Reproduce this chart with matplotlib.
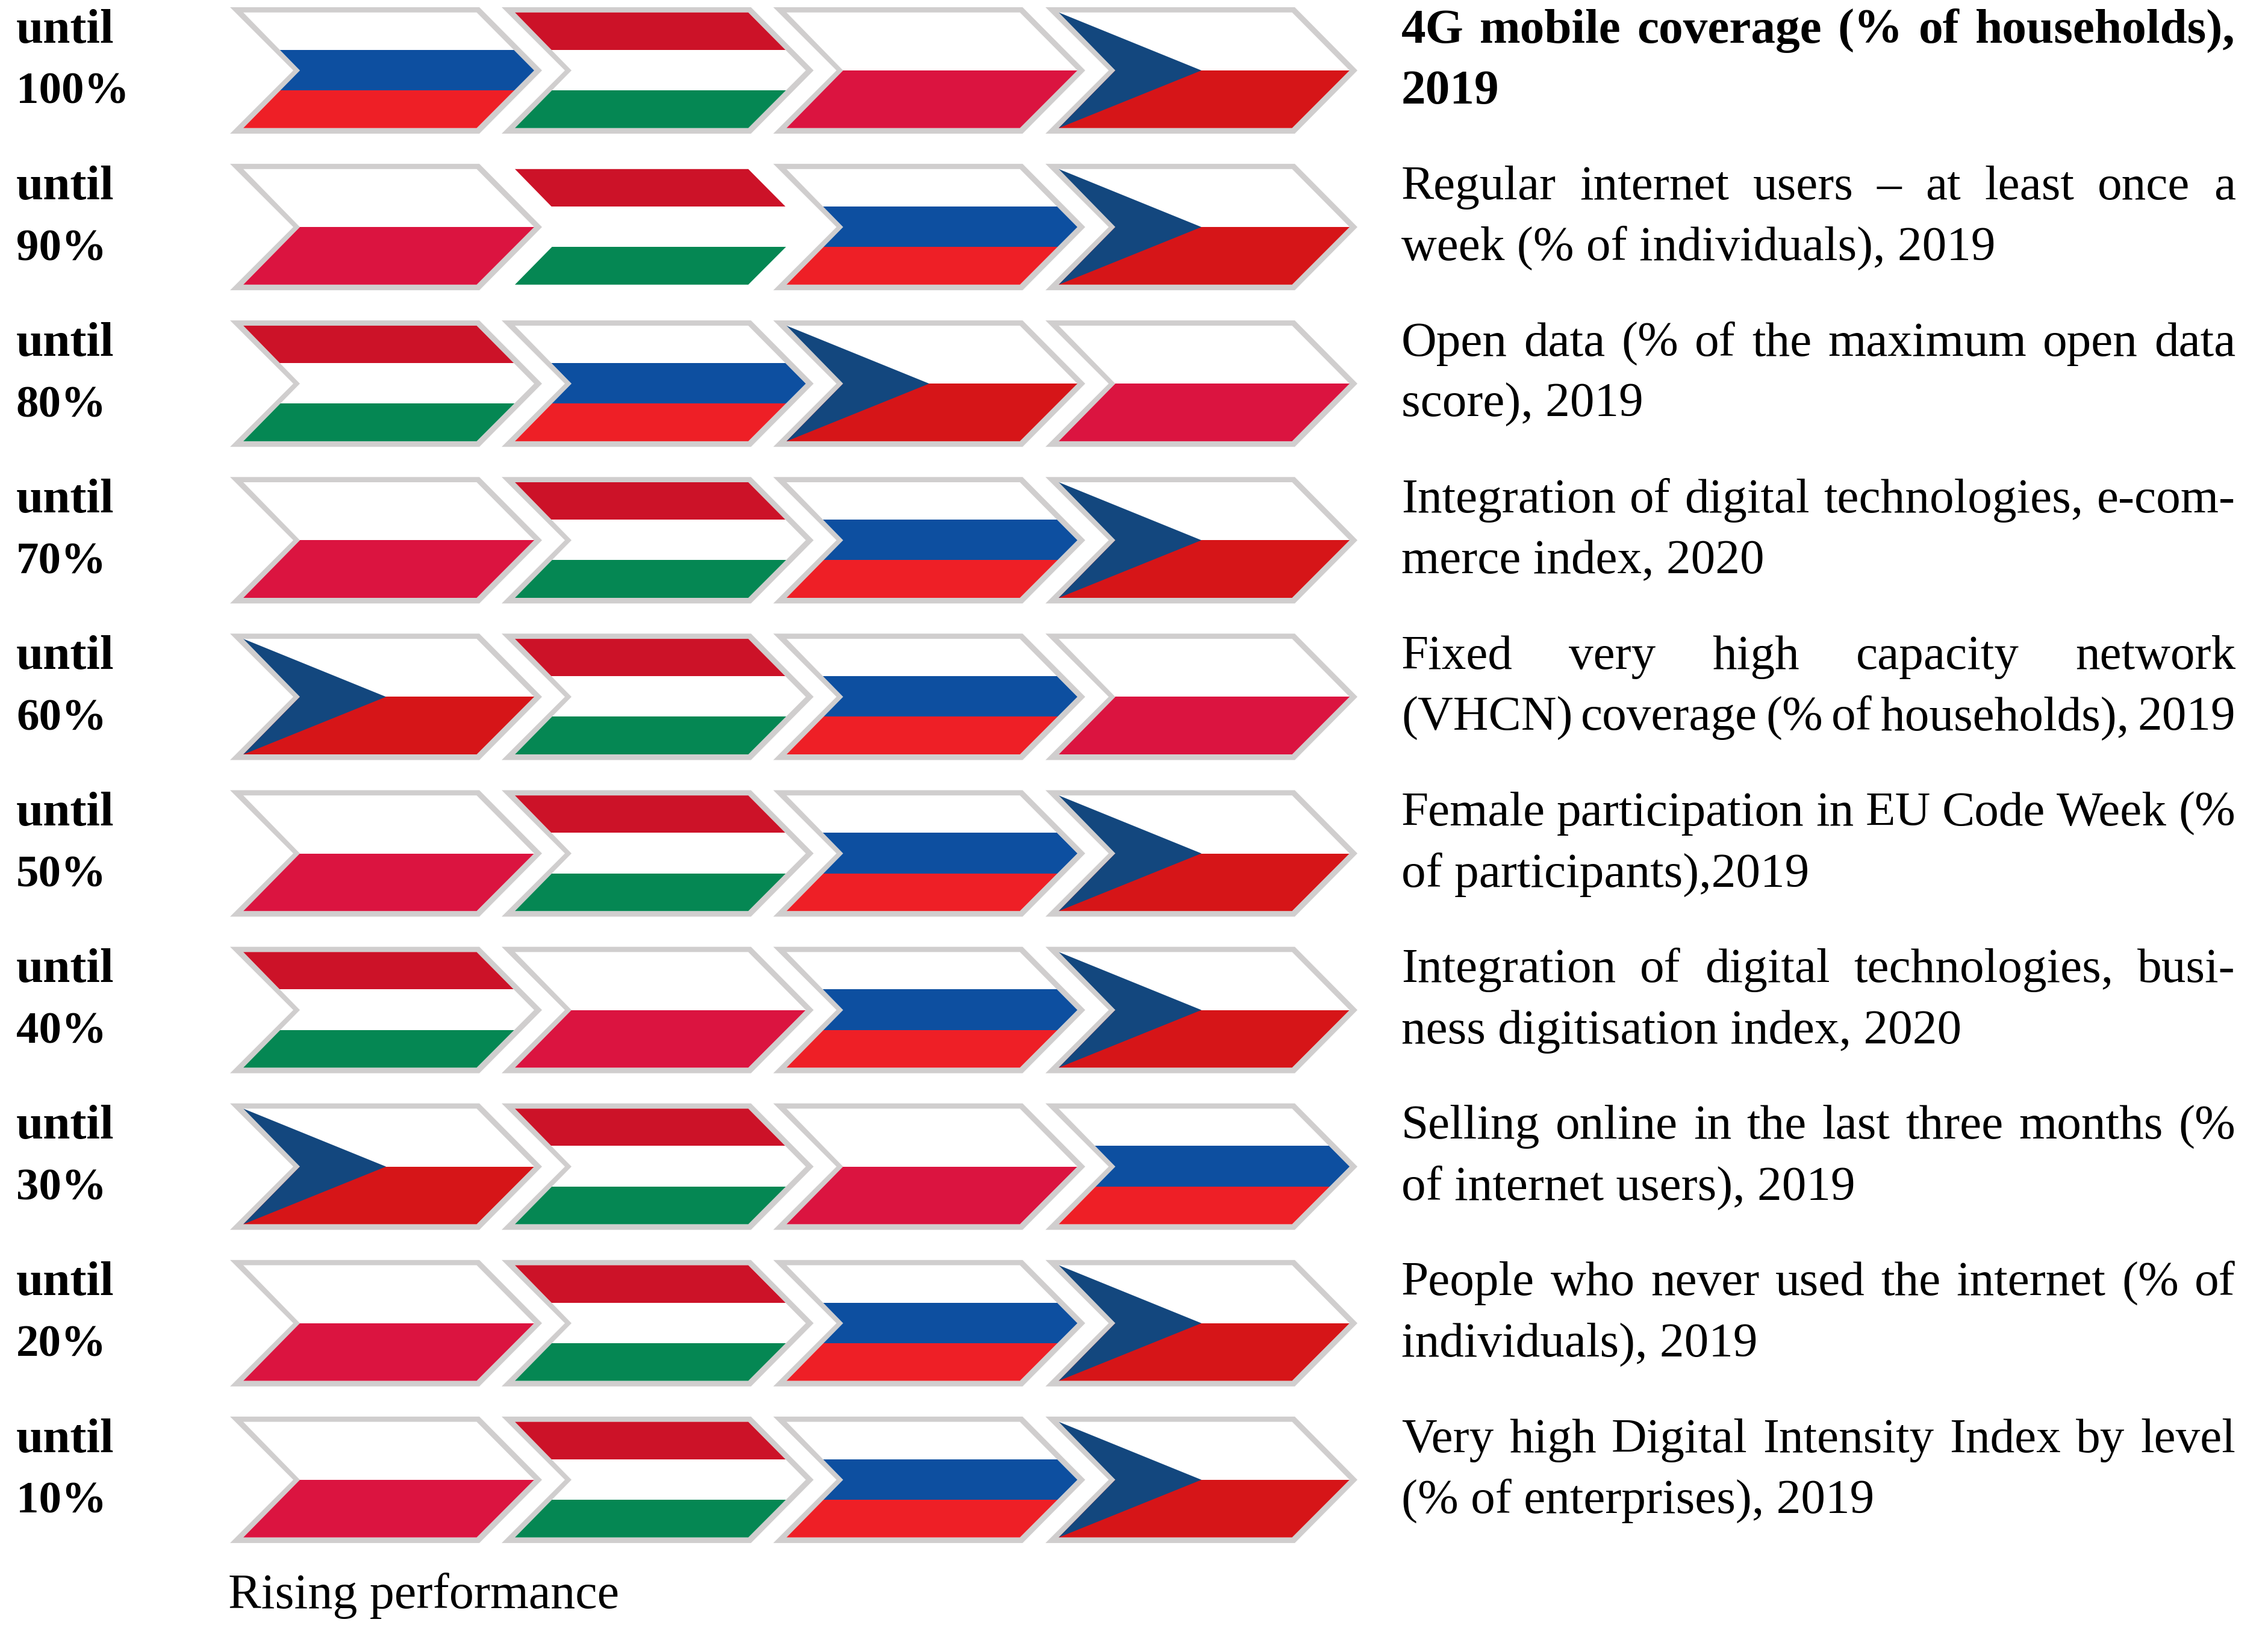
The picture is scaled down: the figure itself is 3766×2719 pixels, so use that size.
#!/usr/bin/env python3
"""Rising performance chart: four chevron flags per threshold row, plus indicator text."""

import matplotlib

matplotlib.use("Agg")
import matplotlib.pyplot as plt
from matplotlib.patches import Polygon, Rectangle

W, H = 3766, 2719
DPI = 300

ROW_LABELS = ["100%", "90%", "80%", "70%", "60%", "50%", "40%", "30%", "20%", "10%"]

ROW_FLAGS = [
    ["RU", "HU", "PL", "CZ"],
    ["PL", "HU", "RU", "CZ"],
    ["HU", "RU", "CZ", "PL"],
    ["PL", "HU", "RU", "CZ"],
    ["CZ", "HU", "RU", "PL"],
    ["PL", "HU", "RU", "CZ"],
    ["HU", "PL", "RU", "CZ"],
    ["CZ", "HU", "PL", "RU"],
    ["PL", "HU", "RU", "CZ"],
    ["PL", "HU", "RU", "CZ"],
]

FIRST_LINES = [
    "4G mobile coverage (% of households),",
    "Regular internet users – at least once a",
    "Open data (% of the maximum open data",
    "Integration of digital technologies, e-com-",
    "Fixed very high capacity network",
    "Female participation in EU Code Week (%",
    "Integration of digital technologies, busi-",
    "Selling online in the last three months (%",
    "People who never used the internet (% of",
    "Very high Digital Intensity Index by level",
]
SECOND_LINES = [
    "2019",
    "week (% of individuals), 2019",
    "score), 2019",
    "merce index, 2020",
    "(VHCN) coverage (% of households), 2019",
    "of participants),2019",
    "ness digitisation index, 2020",
    "of internet users), 2019",
    "individuals), 2019",
    "(% of enterprises), 2019",
]

GREY = "#d0cece"
RU_BLUE, RU_RED = "#0d4fa0", "#ee1f26"
HU_RED, HU_GREEN = "#cc1228", "#058753"
PL_RED = "#db1440"
CZ_BLUE, CZ_RED = "#13477e", "#d61518"

# chevron outline, relative to the top left corner of its outer edge
OUTER = [(0, 0), (414, 0), (518, 105), (414, 210), (0, 210), (105, 105)]
INNER = [(22, 8.7), (409.5, 8.7), (505, 105), (409.5, 200.7), (22, 200.7), (116, 105)]
COL_X = [382, 833, 1284, 1736]
ROW_TOP = 12
ROW_STEP = 260.1

plt.rcParams["font.family"] = ["Liberation Serif", "DejaVu Serif"]
FONT_SIZE = 19.5
PERCENT_SIZE = 18.0  # Liberation's digits run wider than the source face
TEXT_LEFT = 2327
TEXT_RIGHT = 3712


def shifted(points, x, y):
    return [(px + x, py + y) for px, py in points]


def stripe(ax, clip, x, y0, y1, color):
    r = Rectangle((x, y0), 530, y1 - y0, facecolor=color, edgecolor="none")
    ax.add_patch(r)
    r.set_clip_path(clip)


def draw_flag(ax, code, x, y, border=True):
    if border:
        ax.add_patch(Polygon(shifted(OUTER, x, y), closed=True, facecolor=GREY, edgecolor="none"))
    clip = Polygon(shifted(INNER, x, y), closed=True, facecolor="white", edgecolor="none")
    ax.add_patch(clip)
    if code == "RU":
        stripe(ax, clip, x, y + 70.7, y + 138, RU_BLUE)
        stripe(ax, clip, x, y + 138, y + 201, RU_RED)
    elif code == "HU":
        stripe(ax, clip, x, y + 8, y + 70.7, HU_RED)
        stripe(ax, clip, x, y + 138, y + 201, HU_GREEN)
    elif code == "PL":
        stripe(ax, clip, x, y + 105, y + 201, PL_RED)
    elif code == "CZ":
        stripe(ax, clip, x, y + 105, y + 201, CZ_RED)
        tri = Polygon(
            shifted([(22, 8.7), (259, 105), (22, 200.7)], x, y),
            closed=True,
            facecolor=CZ_BLUE,
            edgecolor="none",
        )
        ax.add_patch(tri)
        tri.set_clip_path(clip)


def justified(ax, renderer, line, y, weight):
    """Lay a line out word by word so it fills the text column, like the typeset source."""
    words = line.split(" ")
    items = [ax.text(TEXT_LEFT, y, w, fontsize=FONT_SIZE, fontweight=weight, va="baseline", ha="left") for w in words]
    widths = [t.get_window_extent(renderer).width for t in items]
    gap = (TEXT_RIGHT - TEXT_LEFT - sum(widths)) / (len(words) - 1)
    x = TEXT_LEFT
    for t, w in zip(items, widths):
        t.set_x(x)
        x += w + gap


def main():
    fig = plt.figure(figsize=(W / DPI, H / DPI), dpi=DPI, facecolor="white")
    ax = fig.add_axes([0, 0, 1, 1])
    ax.set_xlim(0, W)
    ax.set_ylim(H, 0)
    ax.axis("off")
    renderer = fig.canvas.get_renderer()

    for i, (label, flags) in enumerate(zip(ROW_LABELS, ROW_FLAGS)):
        top = ROW_TOP + i * ROW_STEP
        for col, code in enumerate(flags):
            # the Hungarian chevron in the second row has no outline in the source
            draw_flag(ax, code, COL_X[col], top, border=not (i == 1 and col == 1))

        weight = "bold" if i == 0 else "normal"
        base1 = top + 58.7
        base2 = top + 160
        ax.text(27, base1, "until", fontsize=FONT_SIZE, fontweight="bold", va="baseline", ha="left")
        ax.text(27, base2, label, fontsize=PERCENT_SIZE, fontweight="bold", va="baseline", ha="left")
        justified(ax, renderer, FIRST_LINES[i], base1, weight)
        if SECOND_LINES[i].startswith("(VHCN)"):
            # this one fills the column in the source too
            justified(ax, renderer, SECOND_LINES[i], base2, weight)
        else:
            ax.text(TEXT_LEFT, base2, SECOND_LINES[i], fontsize=FONT_SIZE, fontweight=weight, va="baseline", ha="left")

    ax.text(379, 2670.7, "Rising performance", fontsize=19.7, va="baseline", ha="left")

    fig.savefig("out.png", dpi=DPI, facecolor="white")
    plt.close(fig)


if __name__ == "__main__":
    main()
